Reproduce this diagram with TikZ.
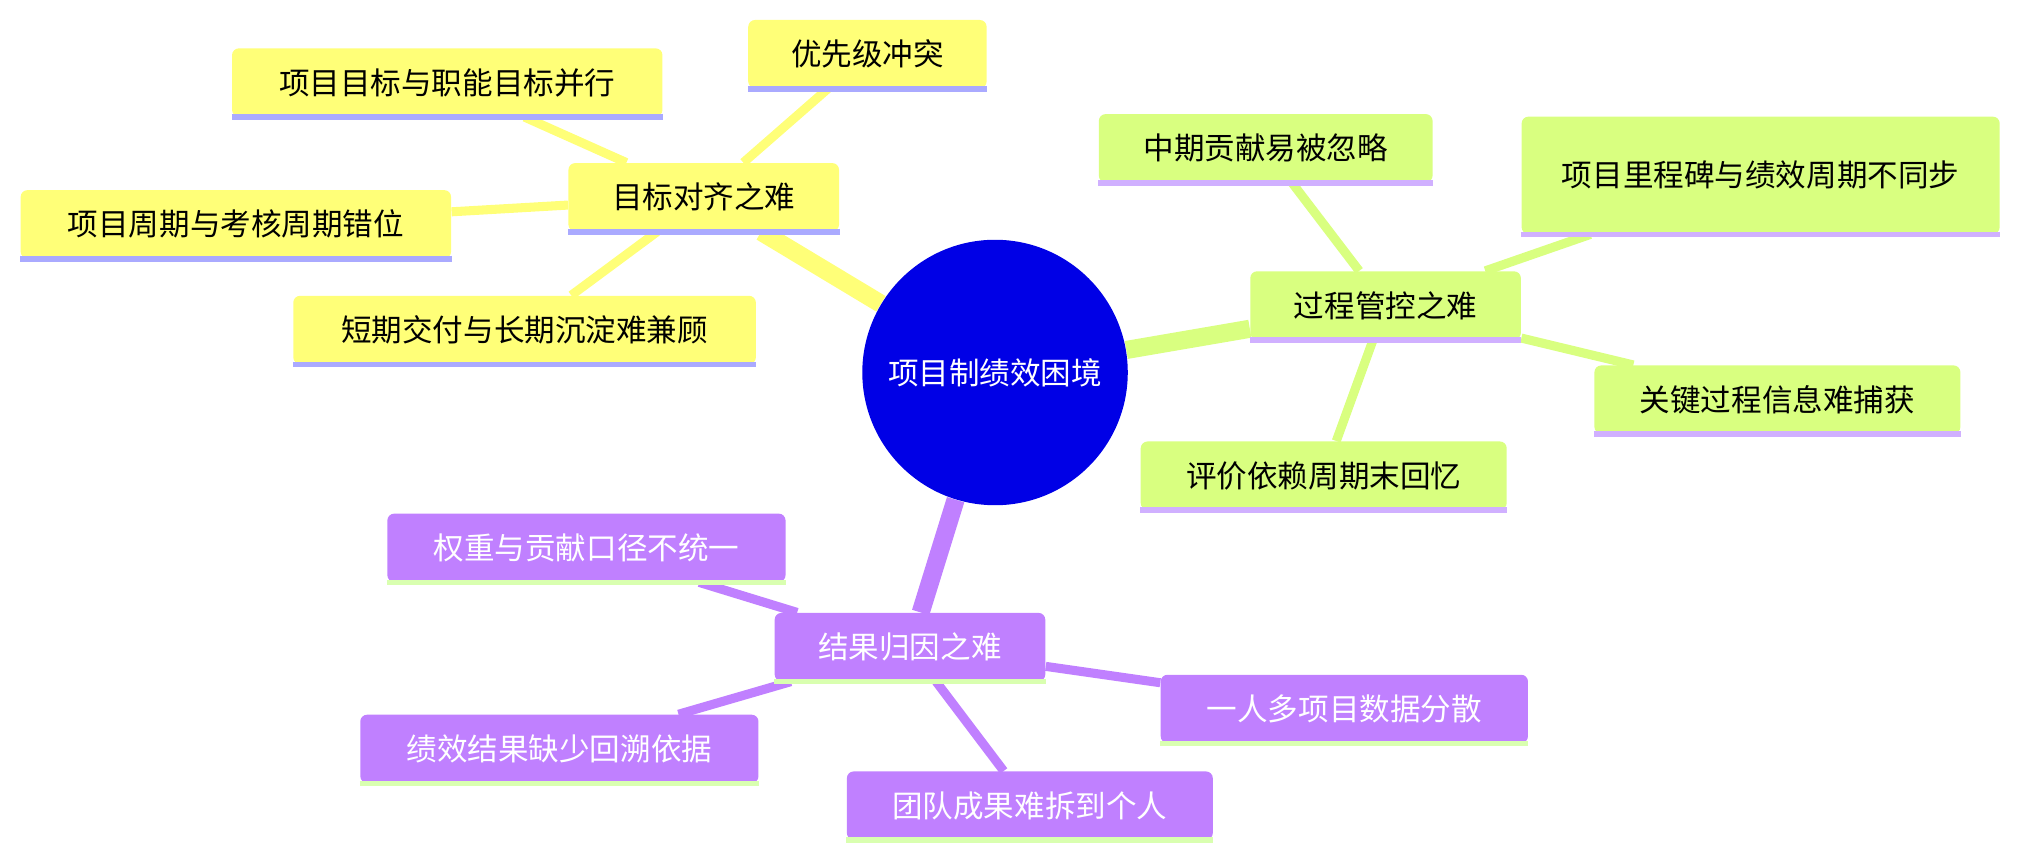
\documentclass[tikz,border=0pt]{standalone}
\usepackage{fontspec}
\setmainfont{Noto Sans CJK SC}
\usetikzlibrary{positioning,backgrounds}
\definecolor{ylw}{HTML}{FFFF78}
\definecolor{ylwline}{HTML}{AAAAFF}
\definecolor{grn}{HTML}{D9FF80}
\definecolor{grnline}{HTML}{D0B0FF}
\definecolor{prp}{HTML}{C080FF}
\definecolor{prpline}{HTML}{D9FFB0}
\definecolor{rootblue}{HTML}{0000E6}
\begin{document}
\begin{tikzpicture}[x=0.02cm, y=-0.02cm,
    box/.style 2 args={rectangle, rounded corners=3pt, minimum width=#1cm, minimum height=#2cm, inner sep=2pt, align=center, font=\fontsize{13.5pt}{20pt}\selectfont},
    ybox/.style 2 args={box={#1}{#2}, fill=ylw},
    gbox/.style 2 args={box={#1}{#2}, fill=grn},
    pbox/.style 2 args={box={#1}{#2}, fill=prp, text=white},
    trunk/.style={line width=8pt},
    twig/.style={line width=4pt}
]
\useasboundingbox (0,0) rectangle (1568,666);

% root
\node[circle, fill=rootblue, minimum size=4.12cm, text=white, font=\fontsize{13.5pt}{20pt}\selectfont] (root) at (772,289) {项目制绩效困境};

% goal alignment
\node[ybox={4.2}{1.06}] (goal) at (546,153) {目标对齐之难};
\node[ybox={3.7}{1.06}] (prio) at (673,42) {优先级冲突};
\node[ybox={6.68}{1.06}] (parallel) at (347,64) {项目目标与职能目标并行};
\node[ybox={6.68}{1.06}] (cycle) at (183,174) {项目周期与考核周期错位};
\node[ybox={7.18}{1.06}] (short) at (407,256) {短期交付与长期沉淀难兼顾};

% process control
\node[gbox={4.2}{1.06}] (proc) at (1075,237) {过程管控之难};
\node[gbox={5.18}{1.06}] (mid) at (982,115) {中期贡献易被忽略};
\node[gbox={7.42}{1.82}, text width=6.6cm] (mile) at (1366,136) {项目里程碑与绩效周期不同步};
\node[gbox={5.68}{1.06}] (key) at (1379,310) {关键过程信息难捕获};
\node[gbox={5.68}{1.06}] (recall) at (1027,369) {评价依赖周期末回忆};

% attribution
\node[pbox={4.2}{1.06}] (attr) at (706,502) {结果归因之难};
\node[pbox={6.18}{1.06}] (weight) at (455,425) {权重与贡献口径不统一};
\node[pbox={5.7}{1.06}] (multi) at (1043,550) {一人多项目数据分散};
\node[pbox={6.18}{1.06}] (trace) at (434,581) {绩效结果缺少回溯依据};
\node[pbox={5.68}{1.06}] (team) at (799,625) {团队成果难拆到个人};

% underlines
\foreach \n in {goal,prio,parallel,cycle,short}
  \draw[ylwline, line width=2.5pt] (\n.south west) -- (\n.south east);
\foreach \n in {proc,mid,mile,key,recall}
  \draw[grnline, line width=2.5pt] (\n.south west) -- (\n.south east);
\foreach \n in {attr,weight,multi,trace,team}
  \draw[prpline, line width=2.5pt] (\n.south west) -- (\n.south east);

% connectors
\begin{scope}[on background layer]
\draw[trunk, ylw] (root) -- (goal);
\draw[trunk, grn] (root) -- (proc);
\draw[trunk, prp] (root) -- (attr);
\foreach \n in {prio,parallel,cycle,short}
  \draw[twig, ylw] (goal) -- (\n);
\foreach \n in {mid,mile,key,recall}
  \draw[twig, grn] (proc) -- (\n);
\foreach \n in {weight,multi,trace,team}
  \draw[twig, prp] (attr) -- (\n);
\end{scope}
\end{tikzpicture}
\end{document}
